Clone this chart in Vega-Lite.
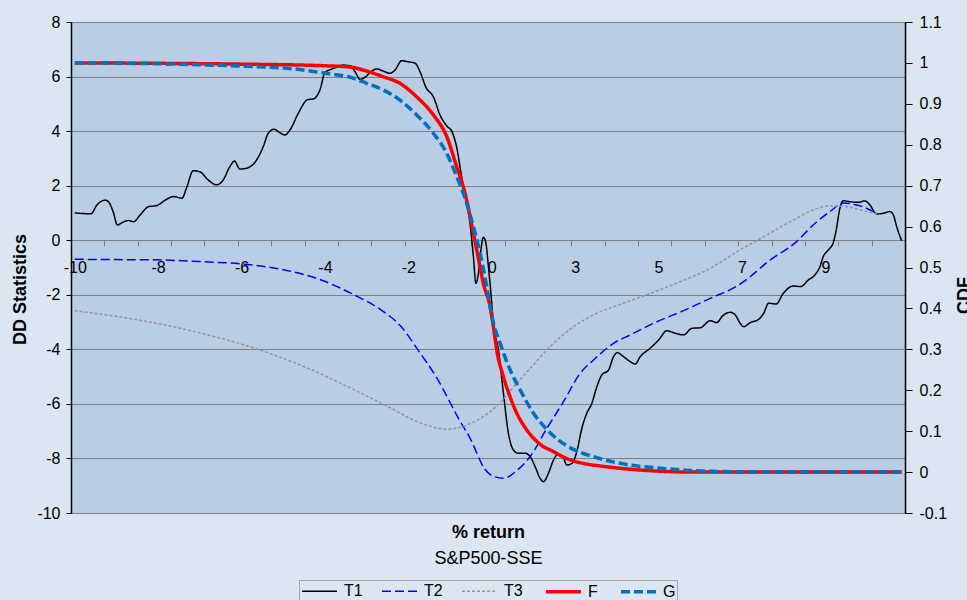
{
  "$schema": "https://vega.github.io/schema/vega-lite/v6.json",
  "width": 834,
  "height": 491,
  "autosize": {"type": "none"},
  "padding": {"left": 71, "top": 22, "right": 62, "bottom": 87},
  "background": "#dce6f2",
  "config": {
    "font": "Liberation Sans",
    "view": {"fill": "#b9cde5", "stroke": null},
    "axis": {"labelFont": "Liberation Sans", "labelFontSize": 16, "labelColor": "#000000", "titleFont": "Liberation Sans", "titleFontSize": 18, "titleColor": "#000000", "labelFlush": false, "labelOverlap": false, "labelBound": false},
    "legend": {"labelFont": "Liberation Sans", "labelFontSize": 16, "labelColor": "#000000", "layout": {"bottom": {"anchor": "middle"}}}
  },
  "datasets": {
    "dd": [
      {"series": "T1", "x": -10.0, "v": 1.0}, {"series": "T1", "x": -9.61, "v": 0.97}, {"series": "T1", "x": -9.47, "v": 1.29}, {"series": "T1", "x": -9.27, "v": 1.47}, {"series": "T1", "x": -9.19, "v": 1.41}, {"series": "T1", "x": -9.07, "v": 1.0}, {"series": "T1", "x": -8.98, "v": 0.56}, {"series": "T1", "x": -8.82, "v": 0.68}, {"series": "T1", "x": -8.71, "v": 0.72}, {"series": "T1", "x": -8.59, "v": 0.68}, {"series": "T1", "x": -8.43, "v": 0.93}, {"series": "T1", "x": -8.23, "v": 1.23}, {"series": "T1", "x": -8.03, "v": 1.27}, {"series": "T1", "x": -7.83, "v": 1.47}, {"series": "T1", "x": -7.63, "v": 1.6}, {"series": "T1", "x": -7.43, "v": 1.54}, {"series": "T1", "x": -7.31, "v": 1.96}, {"series": "T1", "x": -7.16, "v": 2.55}, {"series": "T1", "x": -7.0, "v": 2.51}, {"series": "T1", "x": -6.8, "v": 2.21}, {"series": "T1", "x": -6.6, "v": 2.03}, {"series": "T1", "x": -6.44, "v": 2.21}, {"series": "T1", "x": -6.28, "v": 2.7}, {"series": "T1", "x": -6.17, "v": 2.9}, {"series": "T1", "x": -6.04, "v": 2.61}, {"series": "T1", "x": -5.88, "v": 2.64}, {"series": "T1", "x": -5.64, "v": 2.94}, {"series": "T1", "x": -5.48, "v": 3.43}, {"series": "T1", "x": -5.36, "v": 3.92}, {"series": "T1", "x": -5.22, "v": 4.07}, {"series": "T1", "x": -5.08, "v": 3.94}, {"series": "T1", "x": -4.96, "v": 3.86}, {"series": "T1", "x": -4.84, "v": 4.04}, {"series": "T1", "x": -4.64, "v": 4.65}, {"series": "T1", "x": -4.42, "v": 5.15}, {"series": "T1", "x": -4.28, "v": 5.18}, {"series": "T1", "x": -4.12, "v": 5.51}, {"series": "T1", "x": -4.0, "v": 6.15}, {"series": "T1", "x": -3.86, "v": 6.26}, {"series": "T1", "x": -3.7, "v": 6.35}, {"series": "T1", "x": -3.56, "v": 6.42}, {"series": "T1", "x": -3.4, "v": 6.39}, {"series": "T1", "x": -3.28, "v": 6.18}, {"series": "T1", "x": -3.16, "v": 5.9}, {"series": "T1", "x": -3.04, "v": 5.97}, {"series": "T1", "x": -2.92, "v": 6.14}, {"series": "T1", "x": -2.76, "v": 6.28}, {"series": "T1", "x": -2.6, "v": 6.2}, {"series": "T1", "x": -2.44, "v": 6.12}, {"series": "T1", "x": -2.32, "v": 6.24}, {"series": "T1", "x": -2.16, "v": 6.58}, {"series": "T1", "x": -2.0, "v": 6.54}, {"series": "T1", "x": -1.84, "v": 6.49}, {"series": "T1", "x": -1.72, "v": 6.18}, {"series": "T1", "x": -1.58, "v": 5.61}, {"series": "T1", "x": -1.4, "v": 5.26}, {"series": "T1", "x": -1.24, "v": 4.59}, {"series": "T1", "x": -1.08, "v": 4.19}, {"series": "T1", "x": -0.96, "v": 4.0}, {"series": "T1", "x": -0.84, "v": 3.4}, {"series": "T1", "x": -0.72, "v": 2.3}, {"series": "T1", "x": -0.6, "v": 1.4}, {"series": "T1", "x": -0.52, "v": 0.6}, {"series": "T1", "x": -0.44, "v": -0.6}, {"series": "T1", "x": -0.38, "v": -1.58}, {"series": "T1", "x": -0.32, "v": -1.21}, {"series": "T1", "x": -0.26, "v": -0.36}, {"series": "T1", "x": -0.2, "v": 0.11}, {"series": "T1", "x": -0.14, "v": -0.11}, {"series": "T1", "x": -0.08, "v": -0.97}, {"series": "T1", "x": -0.02, "v": -1.95}, {"series": "T1", "x": 0.04, "v": -3.05}, {"series": "T1", "x": 0.16, "v": -4.02}, {"series": "T1", "x": 0.28, "v": -5.61}, {"series": "T1", "x": 0.4, "v": -7.08}, {"series": "T1", "x": 0.52, "v": -7.69}, {"series": "T1", "x": 0.64, "v": -7.81}, {"series": "T1", "x": 0.8, "v": -7.81}, {"series": "T1", "x": 0.92, "v": -7.93}, {"series": "T1", "x": 1.04, "v": -8.3}, {"series": "T1", "x": 1.16, "v": -8.73}, {"series": "T1", "x": 1.24, "v": -8.85}, {"series": "T1", "x": 1.36, "v": -8.54}, {"series": "T1", "x": 1.48, "v": -8.06}, {"series": "T1", "x": 1.6, "v": -7.84}, {"series": "T1", "x": 1.72, "v": -7.99}, {"series": "T1", "x": 1.8, "v": -8.24}, {"series": "T1", "x": 1.92, "v": -8.18}, {"series": "T1", "x": 2.04, "v": -7.75}, {"series": "T1", "x": 2.16, "v": -6.9}, {"series": "T1", "x": 2.28, "v": -6.34}, {"series": "T1", "x": 2.4, "v": -5.98}, {"series": "T1", "x": 2.52, "v": -5.37}, {"series": "T1", "x": 2.64, "v": -4.94}, {"series": "T1", "x": 2.8, "v": -4.76}, {"series": "T1", "x": 2.92, "v": -4.27}, {"series": "T1", "x": 3.01, "v": -4.12}, {"series": "T1", "x": 3.16, "v": -4.27}, {"series": "T1", "x": 3.32, "v": -4.45}, {"series": "T1", "x": 3.44, "v": -4.54}, {"series": "T1", "x": 3.56, "v": -4.27}, {"series": "T1", "x": 3.8, "v": -3.96}, {"series": "T1", "x": 4.0, "v": -3.66}, {"series": "T1", "x": 4.2, "v": -3.32}, {"series": "T1", "x": 4.4, "v": -3.41}, {"series": "T1", "x": 4.6, "v": -3.47}, {"series": "T1", "x": 4.8, "v": -3.23}, {"series": "T1", "x": 5.0, "v": -3.21}, {"series": "T1", "x": 5.24, "v": -2.95}, {"series": "T1", "x": 5.4, "v": -3.02}, {"series": "T1", "x": 5.52, "v": -2.8}, {"series": "T1", "x": 5.72, "v": -2.64}, {"series": "T1", "x": 5.84, "v": -2.74}, {"series": "T1", "x": 5.96, "v": -3.05}, {"series": "T1", "x": 6.04, "v": -3.17}, {"series": "T1", "x": 6.2, "v": -3.02}, {"series": "T1", "x": 6.4, "v": -2.9}, {"series": "T1", "x": 6.52, "v": -2.68}, {"series": "T1", "x": 6.64, "v": -2.31}, {"series": "T1", "x": 6.82, "v": -2.34}, {"series": "T1", "x": 6.99, "v": -1.95}, {"series": "T1", "x": 7.23, "v": -1.68}, {"series": "T1", "x": 7.41, "v": -1.7}, {"series": "T1", "x": 7.59, "v": -1.46}, {"series": "T1", "x": 7.75, "v": -1.27}, {"series": "T1", "x": 7.87, "v": -0.97}, {"series": "T1", "x": 7.95, "v": -0.6}, {"series": "T1", "x": 8.07, "v": -0.36}, {"series": "T1", "x": 8.19, "v": -0.09}, {"series": "T1", "x": 8.26, "v": 0.37}, {"series": "T1", "x": 8.34, "v": 1.11}, {"series": "T1", "x": 8.43, "v": 1.45}, {"series": "T1", "x": 8.59, "v": 1.41}, {"series": "T1", "x": 8.79, "v": 1.39}, {"series": "T1", "x": 8.95, "v": 1.44}, {"series": "T1", "x": 9.07, "v": 1.29}, {"series": "T1", "x": 9.23, "v": 0.96}, {"series": "T1", "x": 9.39, "v": 0.99}, {"series": "T1", "x": 9.55, "v": 1.05}, {"series": "T1", "x": 9.63, "v": 0.93}, {"series": "T1", "x": 9.71, "v": 0.5}, {"series": "T1", "x": 9.83, "v": -0.02},
      {"series": "T2", "x": -10.0, "v": -0.7}, {"series": "T2", "x": -9.0, "v": -0.71}, {"series": "T2", "x": -8.09, "v": -0.72}, {"series": "T2", "x": -6.89, "v": -0.79}, {"series": "T2", "x": -5.93, "v": -0.88}, {"series": "T2", "x": -4.97, "v": -1.09}, {"series": "T2", "x": -4.09, "v": -1.46}, {"series": "T2", "x": -3.29, "v": -2.01}, {"series": "T2", "x": -2.65, "v": -2.56}, {"series": "T2", "x": -2.17, "v": -3.17}, {"series": "T2", "x": -1.77, "v": -4.02}, {"series": "T2", "x": -1.29, "v": -5.12}, {"series": "T2", "x": -0.82, "v": -6.47}, {"series": "T2", "x": -0.5, "v": -7.32}, {"series": "T2", "x": -0.18, "v": -8.36}, {"series": "T2", "x": 0.06, "v": -8.67}, {"series": "T2", "x": 0.28, "v": -8.73}, {"series": "T2", "x": 0.62, "v": -8.42}, {"series": "T2", "x": 0.92, "v": -7.93}, {"series": "T2", "x": 1.32, "v": -6.9}, {"series": "T2", "x": 1.72, "v": -5.92}, {"series": "T2", "x": 2.12, "v": -4.88}, {"series": "T2", "x": 2.44, "v": -4.39}, {"series": "T2", "x": 2.92, "v": -3.78}, {"series": "T2", "x": 3.32, "v": -3.47}, {"series": "T2", "x": 3.96, "v": -2.99}, {"series": "T2", "x": 4.6, "v": -2.58}, {"series": "T2", "x": 5.24, "v": -2.13}, {"series": "T2", "x": 5.88, "v": -1.68}, {"series": "T2", "x": 6.04, "v": -1.52}, {"series": "T2", "x": 6.68, "v": -0.72}, {"series": "T2", "x": 7.31, "v": -0.05}, {"series": "T2", "x": 7.71, "v": 0.56}, {"series": "T2", "x": 8.11, "v": 1.05}, {"series": "T2", "x": 8.43, "v": 1.36}, {"series": "T2", "x": 8.83, "v": 1.26}, {"series": "T2", "x": 9.23, "v": 0.99},
      {"series": "T3", "x": -10.0, "v": -2.58}, {"series": "T3", "x": -8.49, "v": -2.92}, {"series": "T3", "x": -7.29, "v": -3.29}, {"series": "T3", "x": -5.69, "v": -3.96}, {"series": "T3", "x": -4.49, "v": -4.64}, {"series": "T3", "x": -3.29, "v": -5.49}, {"series": "T3", "x": -2.49, "v": -6.1}, {"series": "T3", "x": -1.69, "v": -6.71}, {"series": "T3", "x": -1.06, "v": -6.93}, {"series": "T3", "x": -0.5, "v": -6.71}, {"series": "T3", "x": 0.14, "v": -6.05}, {"series": "T3", "x": 0.6, "v": -5.24}, {"series": "T3", "x": 0.94, "v": -4.67}, {"series": "T3", "x": 1.4, "v": -3.9}, {"series": "T3", "x": 1.96, "v": -3.17}, {"series": "T3", "x": 2.52, "v": -2.68}, {"series": "T3", "x": 3.16, "v": -2.31}, {"series": "T3", "x": 3.8, "v": -1.95}, {"series": "T3", "x": 4.52, "v": -1.52}, {"series": "T3", "x": 5.24, "v": -1.03}, {"series": "T3", "x": 5.88, "v": -0.42}, {"series": "T3", "x": 6.52, "v": 0.13}, {"series": "T3", "x": 7.16, "v": 0.68}, {"series": "T3", "x": 7.71, "v": 1.11}, {"series": "T3", "x": 8.11, "v": 1.26}, {"series": "T3", "x": 8.51, "v": 1.23}, {"series": "T3", "x": 8.91, "v": 1.08}, {"series": "T3", "x": 9.23, "v": 0.96}
    ],
    "cdf": [
      {"series": "F", "x": -10.0, "p": 1.0}, {"series": "F", "x": -8.0, "p": 0.999}, {"series": "F", "x": -6.0, "p": 0.997}, {"series": "F", "x": -4.0, "p": 0.993}, {"series": "F", "x": -3.4, "p": 0.99}, {"series": "F", "x": -3.0, "p": 0.98}, {"series": "F", "x": -2.6, "p": 0.966}, {"series": "F", "x": -2.2, "p": 0.95}, {"series": "F", "x": -1.8, "p": 0.917}, {"series": "F", "x": -1.4, "p": 0.873}, {"series": "F", "x": -1.08, "p": 0.82}, {"series": "F", "x": -0.84, "p": 0.746}, {"series": "F", "x": -0.64, "p": 0.681}, {"series": "F", "x": -0.52, "p": 0.624}, {"series": "F", "x": -0.36, "p": 0.543}, {"series": "F", "x": -0.2, "p": 0.461}, {"series": "F", "x": -0.04, "p": 0.404}, {"series": "F", "x": 0.04, "p": 0.355}, {"series": "F", "x": 0.12, "p": 0.298}, {"series": "F", "x": 0.28, "p": 0.233}, {"series": "F", "x": 0.44, "p": 0.184}, {"series": "F", "x": 0.6, "p": 0.144}, {"series": "F", "x": 0.84, "p": 0.103}, {"series": "F", "x": 1.16, "p": 0.068}, {"series": "F", "x": 1.48, "p": 0.05}, {"series": "F", "x": 1.8, "p": 0.033}, {"series": "F", "x": 2.2, "p": 0.021}, {"series": "F", "x": 2.6, "p": 0.015}, {"series": "F", "x": 3.56, "p": 0.005}, {"series": "F", "x": 4.92, "p": 0.0}, {"series": "F", "x": 9.83, "p": 0.0},
      {"series": "G", "x": -10.0, "p": 1.0}, {"series": "G", "x": -8.0, "p": 0.998}, {"series": "G", "x": -6.0, "p": 0.992}, {"series": "G", "x": -4.8, "p": 0.986}, {"series": "G", "x": -4.2, "p": 0.978}, {"series": "G", "x": -3.8, "p": 0.972}, {"series": "G", "x": -3.4, "p": 0.965}, {"series": "G", "x": -3.0, "p": 0.95}, {"series": "G", "x": -2.6, "p": 0.934}, {"series": "G", "x": -2.2, "p": 0.909}, {"series": "G", "x": -1.8, "p": 0.873}, {"series": "G", "x": -1.4, "p": 0.828}, {"series": "G", "x": -1.08, "p": 0.779}, {"series": "G", "x": -0.84, "p": 0.722}, {"series": "G", "x": -0.6, "p": 0.657}, {"series": "G", "x": -0.44, "p": 0.6}, {"series": "G", "x": -0.28, "p": 0.535}, {"series": "G", "x": -0.12, "p": 0.453}, {"series": "G", "x": 0.04, "p": 0.364}, {"series": "G", "x": 0.2, "p": 0.315}, {"series": "G", "x": 0.44, "p": 0.25}, {"series": "G", "x": 0.68, "p": 0.201}, {"series": "G", "x": 1.0, "p": 0.144}, {"series": "G", "x": 1.36, "p": 0.1}, {"series": "G", "x": 1.8, "p": 0.064}, {"series": "G", "x": 2.16, "p": 0.047}, {"series": "G", "x": 2.52, "p": 0.035}, {"series": "G", "x": 3.32, "p": 0.017}, {"series": "G", "x": 4.12, "p": 0.009}, {"series": "G", "x": 4.92, "p": 0.003}, {"series": "G", "x": 6.52, "p": 0.0}, {"series": "G", "x": 9.83, "p": 0.0}
    ]
  },
  "layer": [
    {
      "data": {"name": "dd"},
      "mark": {"type": "line", "interpolate": "monotone"},
      "encoding": {
        "x": {"field": "x", "type": "quantitative", "scale": {"domain": [-10.09, 9.91], "nice": false, "zero": false},
          "axis": {"orient": "bottom", "offset": -273, "values": [-10, -8, -6, -4, -2, 0, 2, 4, 6, 8], "labelExpr": "datum.value > 0 ? '' + (datum.value + 1) : '' + datum.value", "ticks": false, "tickSize": 0, "grid": false, "domain": true, "domainColor": "#808080", "domainWidth": 1, "labelPadding": 19, "title": "S&P500-SSE", "titleFontWeight": "normal", "titleY": 323, "titleBaseline": "alphabetic"}},
        "y": {"field": "v", "type": "quantitative", "scale": {"domain": [-10, 8], "nice": false, "zero": false},
          "axis": {"orient": "left", "values": [-10, -8, -6, -4, -2, 0, 2, 4, 6, 8], "labelExpr": "'' + datum.value", "grid": true, "gridColor": "#808080", "gridWidth": 1, "domainColor": "#000000", "domainWidth": 1.5, "tickColor": "#000000", "tickSize": 5, "labelPadding": 6, "title": "DD Statistics", "titleFontWeight": "bold", "titleY": 267, "titlePadding": 7}},
        "color": {"field": "series", "type": "nominal", "scale": {"domain": ["T1", "T2", "T3", "F", "G"], "range": ["#000000", "#0000ff", "#969696", "#ff0000", "#0070c0"]},
          "legend": {"orient": "bottom", "direction": "horizontal", "columns": 5, "title": null, "symbolType": "M-2,0H2", "symbolSize": 306, "symbolOffset": 9, "columnPadding": 16, "labelOffset": 14, "padding": 1, "strokeColor": "#a6a6a6", "fillColor": "#dce6f2", "offset": 13}},
        "strokeDash": {"field": "series", "type": "nominal", "scale": {"domain": ["T1", "T2", "T3", "F", "G"], "range": [[1, 0], [9, 4], [3, 2], [1, 0], [9, 4]]}},
        "strokeWidth": {"field": "series", "type": "nominal", "scale": {"type": "ordinal", "domain": ["T1", "T2", "T3", "F", "G"], "range": [1.5, 1.5, 1.5, 3.5, 3.5]}}
      }
    },
    {
      "data": {"name": "cdf"},
      "mark": {"type": "line", "interpolate": "monotone"},
      "encoding": {
        "x": {"field": "x", "type": "quantitative", "scale": {"domain": [-10.09, 9.91], "nice": false, "zero": false},
          "axis": {"orient": "bottom", "offset": -273, "values": [-9.29, -8.49, -7.69, -6.89, -6.09, -5.29, -4.49, -3.69, -2.89, -2.09, -1.29, -0.49, 0.31, 1.11, 1.91, 2.71, 3.51, 4.31, 5.11, 5.91, 6.71, 7.51, 8.31, 9.11], "labels": false, "domain": false, "ticks": true, "tickColor": "#808080", "tickSize": 6, "grid": false, "title": "% return", "titleFontWeight": "bold", "titleY": 297, "titleBaseline": "alphabetic"}},
        "y": {"field": "p", "type": "quantitative", "scale": {"domain": [-0.1, 1.1], "nice": false, "zero": false},
          "axis": {"orient": "right", "values": [-0.1, 0, 0.1, 0.2, 0.3, 0.4, 0.5, 0.6, 0.7, 0.8, 0.9, 1, 1.1], "labelExpr": "'' + datum.value", "grid": false, "domainColor": "#000000", "domainWidth": 1.5, "tickColor": "#000000", "tickSize": 7, "labelPadding": 7, "title": "CDF", "titleFontWeight": "bold", "titleAngle": -90, "titleBaseline": "top", "titleY": 273, "titlePadding": 9}},
        "color": {"field": "series", "type": "nominal", "scale": {"domain": ["T1", "T2", "T3", "F", "G"], "range": ["#000000", "#0000ff", "#969696", "#ff0000", "#0070c0"]}},
        "strokeDash": {"field": "series", "type": "nominal", "scale": {"domain": ["T1", "T2", "T3", "F", "G"], "range": [[1, 0], [9, 4], [3, 2], [1, 0], [9, 4]]}},
        "strokeWidth": {"field": "series", "type": "nominal", "scale": {"type": "ordinal", "domain": ["T1", "T2", "T3", "F", "G"], "range": [1.5, 1.5, 1.5, 3.5, 3.5]}}
      }
    }
  ],
  "resolve": {"scale": {"y": "independent"}, "axis": {"x": "independent"}}
}
